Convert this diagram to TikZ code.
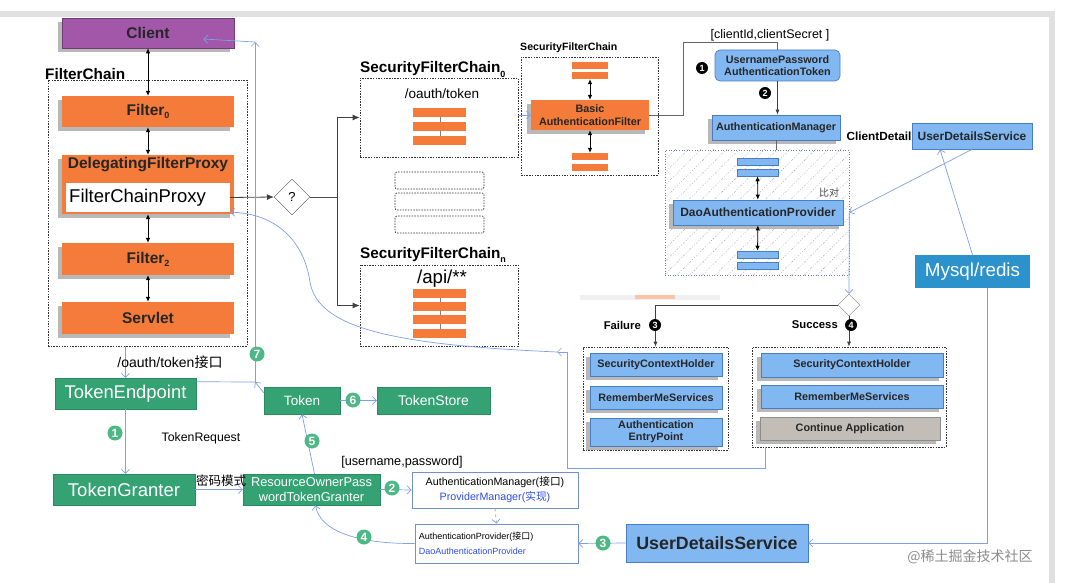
\documentclass[tikz,border=0pt]{standalone}
\usepackage{fontspec}
\setmainfont{Liberation Sans}
\newfontfamily\cjk{Noto Sans CJK SC}
\usetikzlibrary{arrows.meta,shapes.geometric,patterns.meta,shadows,calc}
\definecolor{orangeC}{HTML}{F47B3A}
\definecolor{purpleC}{HTML}{A257A9}
\definecolor{lblue}{HTML}{82B8F2}
\definecolor{bblue}{HTML}{4A7CC4}
\definecolor{greenC}{HTML}{34A272}
\definecolor{numG}{HTML}{4DB886}
\definecolor{lineB}{HTML}{7FA0E6}
\definecolor{mysqlC}{HTML}{2B92CC}
\definecolor{textB}{HTML}{2F4FE0}
\definecolor{grayC}{HTML}{C2BDB6}
\newcommand\fs[1]{\fontsize{#1}{#1}\selectfont}
% #1 style, #2 name, #3 x1, #4 y1, #5 x2, #6 y2, #7 text
\newcommand\pbx[7]{%
  \pgfmathsetmacro\pbxw{#5-#3}\pgfmathsetmacro\pbxh{#6-#4}%
  \pgfmathsetmacro\pbxx{(#3+#5)/2}\pgfmathsetmacro\pbxy{(#4+#6)/2}%
  \node[#1, minimum width=\pbxw pt, minimum height=\pbxh pt] (#2) at (\pbxx,\pbxy) {#7};}
\begin{document}
\begin{tikzpicture}[x=1pt,y=-1pt,
  shad/.style={general shadow={fill=black!28, shadow xshift=-4pt, shadow yshift=-4pt}},
  obox/.style={fill=orangeC, inner sep=0pt, shad, text=black!85, font=\bfseries\fs{15.5}},
  pbox/.style={fill=purpleC, draw=purpleC!70!black, line width=0.6pt, inner sep=0pt, shad, text=black!85, font=\bfseries\fs{15.5}},
  bboxns/.style={fill=lblue, draw=bblue, line width=0.7pt, inner sep=0pt, text=black!85, align=center, font=\bfseries\fontsize{10.8}{12.5}\selectfont},
  bbox/.style={bboxns, shad},
  gybox/.style={fill=grayC, draw=black!45, line width=0.7pt, inner sep=0pt, shad, text=black!85, font=\bfseries\fs{10.8}},
  gbox/.style={fill=greenC, draw=greenC!85!black, line width=0.5pt, inner sep=0pt, text=white, align=center},
  wbox/.style={fill=white, draw=lineB!90!black, line width=0.7pt, inner sep=0pt, align=center},
  dbox/.style={draw=black!80, dash pattern=on 1.5pt off 1.2pt, line width=0.7pt, inner sep=0pt},
  obar/.style={fill=orangeC, minimum width=36pt, minimum height=7pt, inner sep=0pt},
  bbar/.style={fill=lblue, draw=bblue, line width=0.5pt, minimum width=41pt, minimum height=7pt, inner sep=0pt},
  conn/.style={draw=black!75, line width=0.8pt, -{Latex[length=7pt,width=6pt]}},
  conns/.style={draw=black!75, line width=0.7pt, -{Latex[length=5pt,width=4pt]}},
  bi/.style={draw=black, line width=0.8pt, {Latex[length=5pt,width=4.5pt]}-{Latex[length=5pt,width=4.5pt]}},
  barrow/.style={draw=lineB, line width=0.7pt, -{Straight Barb[length=4pt,width=8pt]}},
  bline/.style={draw=lineB, line width=0.7pt},
  gnum/.style={circle, fill=numG, text=white, inner sep=0pt, minimum size=15pt, font=\bfseries\fs{12}},
  knum/.style={circle, fill=black, text=white, inner sep=0pt, minimum size=12pt, font=\bfseries\fs{9}},
  lbl/.style={inner sep=0pt}
]
\useasboundingbox (0,0) rectangle (1085,583);
\fill[white] (0,0) rectangle (1085,583);
\fill[black!12] (0,11) rectangle (1052,17);
\fill[black!12] (1049,11) rectangle (1055,583);

% ---------- left filter chain ----------
\pbx{pbox}{client}{62}{18}{234}{48}{Client}
\node[lbl, anchor=west, font=\bfseries\fs{15.3}] (fcl) at (45,74) {FilterChain};
\pbx{dbox}{fc}{48}{80}{247}{346}{}
\pbx{obox}{f0}{62}{96}{234}{127}{Filter\raisebox{-3pt}{\fs{9}0}}
\pbx{obox}{dfp}{62}{155}{234}{214}{}
\node[lbl, font=\bfseries\fs{15.5}, text=black!85] (dfpl) at (148,165) {DelegatingFilterProxy};
\pbx{fill=white, inner sep=0pt}{fcp}{66}{183}{230}{212}{}
\node[lbl, anchor=west, font=\fs{18.5}] (fcpl) at (69,198) {FilterChainProxy};
\pbx{obox}{f2}{62}{243}{234}{275}{Filter\raisebox{-3pt}{\fs{9}2}}
\pbx{obox}{servlet}{62}{302}{234}{334}{Servlet}
\draw[bi] (client) -- (f0);
\draw[bi] (f0) -- (dfp);
\draw[bi] (dfp) -- (f2);
\draw[bi] (f2) -- (servlet);

% ---------- decision ----------
\node[diamond, draw=black!70, fill=white, minimum width=36pt, minimum height=36pt, inner sep=0pt, font=\fs{13}] (q) at (292,197) {?};
\draw[conn] (fcp.east) -- (q.west);
\coordinate (qs) at (337,197);
\draw[draw=black!70, line width=0.8pt] (q.east) -- (qs);

% ---------- SecurityFilterChain 0 ----------
\node[lbl, anchor=base west, font=\bfseries\fs{15.3}] at (360,73) {SecurityFilterChain\raisebox{-5pt}{\fs{9}0}};
\pbx{dbox}{sfc0}{360}{78}{518}{157}{}
\node[lbl, font=\fs{13.5}] at (442,94) {/oauth/token};
\draw[black!50, line width=0.6pt] (440,108) -- (440,145);
\foreach \y in {108,122,136} \fill[orangeC] (413,\y) rectangle (466,\y+9);
\foreach \y in {172,193,216} \draw[dbox, rounded corners=2pt] (395,\y) rectangle (484,\y+17);

% ---------- SecurityFilterChain n ----------
\node[lbl, anchor=base west, font=\bfseries\fs{15.3}] at (360,258) {SecurityFilterChain\raisebox{-5pt}{\fs{9}n}};
\pbx{dbox}{sfcn}{360}{265}{518}{346}{}
\node[lbl, font=\fs{18.7}] at (442,279) {/api/**};
\draw[black!50, line width=0.6pt] (440,289) -- (440,338);
\foreach \y in {289,302,315,329} \fill[orangeC] (413,\y) rectangle (466,\y+9);
\draw[conn] (qs) |- (sfc0);
\draw[conn] (qs) |- (sfcn);

% ---------- small SecurityFilterChain ----------
\node[lbl, anchor=base west, font=\bfseries\fs{10.6}] at (520,51) {SecurityFilterChain};
\pbx{dbox}{sfcs}{521}{57}{658}{175}{}
\node[obar] (sb1) at (590,65.5) {};
\node[obar] (sb2) at (590,75.5) {};
\node[obar] (sb3) at (590,156.5) {};
\node[obar] (sb4) at (590,167.5) {};
\pbx{obox, align=center, font=\bfseries\fontsize{10.8}{13}\selectfont}{basic}{531}{100}{649}{130}{Basic\\AuthenticationFilter}
\draw[bi] (sb2) -- (basic);
\draw[bi] (basic) -- (sb3);
\draw[barrow] (sfc0.east |- basic.west) -- (basic.west);

% ---------- client credentials part ----------
\pbx{bboxns, rounded corners=5pt}{upat}{715}{50}{840}{81}{UsernamePassword\\AuthenticationToken}
\coordinate (br1) at (683,42);
\draw[black!60, line width=0.8pt] (basic.east) -| (br1) -| (upat.north);
\node[lbl, font=\fs{12.5}] at (770,35) {[clientId,clientSecret ]};
\pbx{bbox}{am}{712}{115}{840}{140}{AuthenticationManager}
\draw[conns] (upat.south) -- (upat.south |- am.north);
\node[knum] at (702,68) {1};
\node[knum] at (765,93) {2};

\pbx{draw=lineB!80!black, dotted, line width=0.7pt, inner sep=0pt, pattern={Lines[angle=45,distance=9pt,line width=0.6pt]}, pattern color=black!35}{hatch}{665}{150}{849}{275}{}
\draw[black!60, line width=0.7pt] (am.south) -- (am.south |- hatch.north);
\node[bbar] (hb1) at (757.5,161.5) {};
\node[bbar] (hb2) at (757.5,172.5) {};
\node[bbar] (hb3) at (757.5,254.5) {};
\node[bbar] (hb4) at (757.5,265.5) {};
\pbx{bbox, font=\bfseries\fs{12}}{dap}{673}{200}{843}{225}{DaoAuthenticationProvider}
\draw[bi] (hb2) -- (dap);
\draw[bi] (dap) -- (hb3);
\node[lbl, font=\cjk\fs{10}, text=black!70] at (829,193) {比对};

\pbx{bboxns, font=\bfseries\fs{12}}{cdus}{912}{123}{1032}{149}{UserDetailsService}
\node[lbl, anchor=east, font=\bfseries\fs{11.8}] at (cdus.west) {ClientDetail};
\pbx{fill=mysqlC, inner sep=0pt, text=white, font=\fs{18.8}}{mysql}{915}{255}{1030}{288}{Mysql/redis}
\draw[barrow] (mysql.north) -- ([xshift=-32pt]cdus.south);
\draw[barrow] (cdus.south) -- (hatch.east);

% ---------- failure / success ----------
\fill[black!6] (580,295) rectangle (720,300);
\fill[orangeC!45] (635,295) rectangle (675,299);
\node[diamond, draw=black!50, fill=white, minimum width=22pt, minimum height=22pt, inner sep=0pt] (d2) at (849,305) {};
\draw[barrow] (hatch.east) -- (d2.north);
\pbx{dbox}{fail}{583}{347}{728}{450}{}
\pbx{dbox}{succ}{752}{347}{946}{447}{}
\draw[conns] (d2.west) -| (fail.north);
\draw[conns] (d2.south) -- (succ.north);
\node[lbl, anchor=east, font=\bfseries\fs{11.3}] at (641,325) {Failure};
\node[knum] at (655,325) {3};
\node[lbl, anchor=east, font=\bfseries\fs{11.3}] at (838,325) {Success};
\node[knum] at (851,325) {4};
\pbx{bbox}{fsch}{590}{353}{722}{376}{SecurityContextHolder}
\pbx{bbox}{frms}{590}{386}{722}{409}{RememberMeServices}
\pbx{bbox, font=\bfseries\fontsize{10.8}{12}\selectfont}{faep}{590}{418}{722}{446}{Authentication\\EntryPoint}
\pbx{bbox}{ssch}{761}{353}{943}{377}{SecurityContextHolder}
\pbx{bbox}{srms}{761}{385}{943}{408}{RememberMeServices}
\pbx{gybox}{sca}{760}{417}{940}{440}{Continue Application}

\coordinate (c567) at (567,352);
\coordinate (c557) at (557,352);
\draw[barrow] ([xshift=-84pt]succ.south) -- ++(0,21) -| (c567) -- (c557);
\draw[barrow] (c557) .. controls (400,345) and (318,330) .. (310,282) .. controls (303,235) and (270,213) .. (fcp.south east);

% ---------- bottom: token flow ----------
\pbx{gbox, font=\fs{18.4}}{te}{55}{378}{196}{409}{TokenEndpoint}
\pbx{gbox, font=\fs{18.5}}{tg}{53}{474}{195}{505}{TokenGranter}
\pbx{gbox, font=\fontsize{12.8}{14.5}\selectfont}{ro}{243}{474}{380}{505}{ResourceOwnerPass\\wordTokenGranter}
\pbx{gbox, font=\fs{13.5}}{token}{264}{387}{340}{414}{Token}
\pbx{gbox, font=\fs{14}}{ts}{377}{387}{490}{414}{TokenStore}
\pbx{wbox, font=\fontsize{10.7}{15}\selectfont}{am2}{412}{472}{578}{508}{AuthenticationManager({\cjk 接口})\\{\color{textB}ProviderManager({\cjk 实现})}}
\pbx{wbox}{ap}{415}{524}{578}{563}{}
\node[lbl, anchor=west, align=left, font=\fontsize{9}{15}\selectfont] at ([xshift=4pt]ap.west) {AuthenticationProvider({\cjk 接口})\\{\color{textB}DaoAuthenticationProvider}};
\pbx{bboxns, font=\bfseries\fs{17.8}}{uds}{626}{524}{808}{562}{UserDetailsService}

\draw[barrow] ([xshift=15pt]mysql.south) |- (uds.east);
\draw[barrow] (fc.south -| te.north) -- (te.north);
\node[lbl, font=\fs{14}] at (170,362) {/oauth/token{\cjk 接口}};
\draw[barrow] (te.south) -- (te.south |- tg.north);
\node[lbl, font=\fs{12.3}] at (201,438) {TokenRequest};
\draw[barrow] (tg.east) -- (ro.west);
\node[lbl, font=\cjk\fs{12.5}] at (221,481) {密码模式};
\draw[barrow] ([xshift=3pt]ro.north) -- (token.south);
\draw[barrow] (token.east) -- (ts.west);
\draw[barrow] (ro.east) -- (am2.west);
\node[lbl, font=\fs{12.7}] at (402,462) {[username,password]};
\draw[barrow, dashed] (am2.south) -- (ap.north);
\draw[barrow] (uds.west) -- (ap.east);
\draw[barrow] (ap.west) .. controls (360,544) and (320,532) .. ([xshift=4pt]ro.south);

\coordinate (j7) at (255,382);
\coordinate (j7t) at (255,42);
\draw[barrow] ([yshift=-6pt]token.north west) -- (j7);
\draw[barrow] (j7) -- (j7t);
\draw[barrow] (j7t) -- ([xshift=-31pt,yshift=-6pt]client.east);
\draw[bline] ([yshift=-4pt]te.north east) -- (j7);

\node[gnum] at (115,433) {1};
\node[gnum] at (392,488) {2};
\node[gnum] at (603,543) {3};
\node[gnum] at (364,537) {4};
\node[gnum] at (312,441) {5};
\node[gnum] at (353,400) {6};
\node[gnum] at (257,354) {7};

\node[lbl, text=black!45, font=\cjk\fs{14}] at (970,557) {@稀土掘金技术社区};
\end{tikzpicture}
\end{document}
